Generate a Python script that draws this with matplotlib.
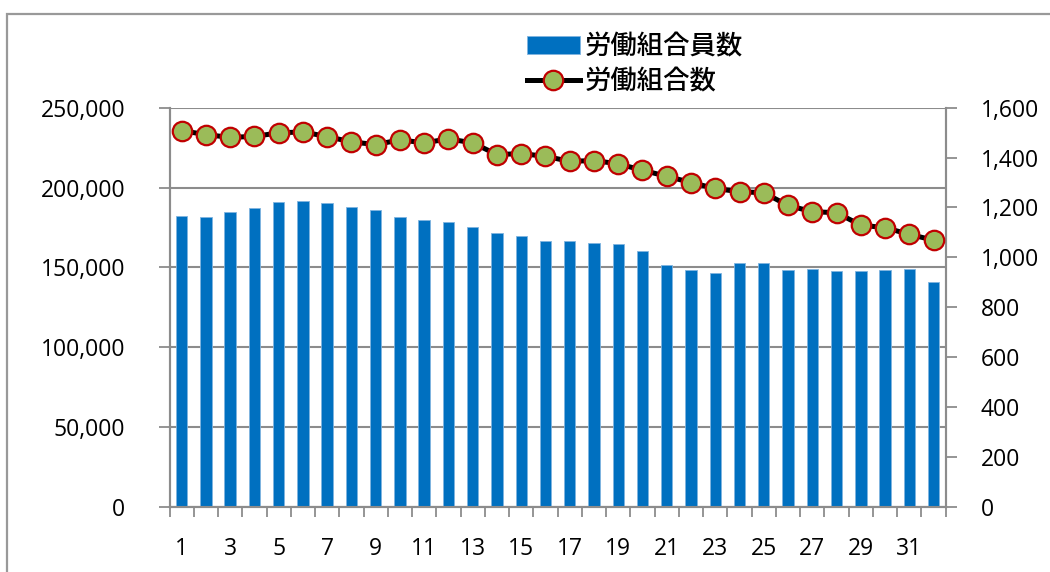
import matplotlib
matplotlib.use("Agg")
import matplotlib.pyplot as plt
from matplotlib.patches import Rectangle
from matplotlib.ticker import FixedLocator, FuncFormatter
import numpy as np

categories = list(range(1, 33))
members = [182000, 181500, 184400, 187300, 191000, 191400, 190600, 187700,
           185600, 181500, 179800, 178500, 175200, 171700, 169600, 166500,
           166400, 165400, 164800, 160000, 151400, 148500, 146400, 152500,
           152500, 148500, 149100, 147700, 147900, 148500, 148700, 140800]
unions = [1508, 1492, 1481, 1485, 1499, 1503, 1484, 1463, 1452, 1471, 1459,
          1475, 1459, 1412, 1416, 1405, 1385, 1388, 1375, 1349, 1325, 1300,
          1276, 1263, 1259, 1208, 1183, 1179, 1129, 1119, 1092, 1069]
xtick_labels = [str(v) for v in range(1, 32, 2)]
left_ticks = [0, 50000, 100000, 150000, 200000, 250000]
right_ticks = [0, 200, 400, 600, 800, 1000, 1200, 1400, 1600]
label_bars = "労働組合員数"
label_line = "労働組合数"

W, H = 1050, 572
fig = plt.figure(figsize=(W / 100, H / 100), dpi=100)

grey = "#8c8c8c"
tick_font = dict(family=["Open Sans", "DejaVu Sans"], size=16.5)

# outer chart border
fig.patches.append(Rectangle((7 / W, -0.05), 1.2, 1 - 13.5 / H + 0.05,
                             transform=fig.transFigure, fill=False,
                             edgecolor="#999999", lw=1.6))

l, r, b, t = 169.5 / W, 945.7 / W, 1 - 506.7 / H, 1 - 107.7 / H
ax = fig.add_axes([l, b, r - l, t - b])
ax2 = ax.twinx()

bars = ax.bar(categories, members, width=0.47, color="#0070C0",
              edgecolor="#7fb4e0", linewidth=0.6, zorder=3, label=label_bars)
ax.set_xlim(0.5, 32.5)
ax.set_ylim(0, 250000)
ax.set_yticks(left_ticks)
ax.yaxis.set_major_formatter(FuncFormatter(lambda v, p: f"{int(v):,}"))
ax.grid(axis="y", color=grey, lw=1.5, zorder=0)
ax.set_axisbelow(True)

ax.set_xticks([int(s) for s in xtick_labels])
ax.set_xticklabels(xtick_labels)
ax.xaxis.set_minor_locator(FixedLocator(np.arange(0.5, 33, 1.0)))
ax.tick_params(axis="x", which="major", length=0, pad=22)
ax.tick_params(axis="x", which="minor", length=7, width=1.3, color=grey, direction="out")
ax.tick_params(axis="y", length=8, width=1.3, color=grey, direction="out", pad=24)

(line,) = ax2.plot(categories, unions, color="black", lw=3.6, marker="o",
                   markersize=14, markerfacecolor="#9BBB59",
                   markeredgecolor="#C00000", markeredgewidth=1.6,
                   label=label_line, zorder=4)
ax2.set_ylim(0, 1600)
ax2.set_yticks(right_ticks)
ax2.yaxis.set_major_formatter(FuncFormatter(lambda v, p: f"{int(v):,}"))
ax2.tick_params(axis="y", length=8, width=1.3, color=grey, direction="out", pad=17)

for a in (ax, ax2):
    for s in ("top",):
        a.spines[s].set_visible(False)
    for s in ("left", "right", "bottom"):
        a.spines[s].set_color(grey)
        a.spines[s].set_linewidth(1.5)
    for lab in a.get_xticklabels() + a.get_yticklabels():
        lab.set_fontfamily(tick_font["family"])
        lab.set_fontsize(tick_font["size"])

leg = fig.legend(handles=[bars, line], labels=[label_bars, label_line],
                 loc="upper left", bbox_to_anchor=(527 / W, 1 - 33 / H),
                 frameon=False, borderpad=0, borderaxespad=0,
                 handlelength=2.0, handletextpad=0.2, labelspacing=0.32,
                 prop=dict(family=["Noto Sans CJK JP", "DejaVu Sans"], size=19,
                           weight="medium"))
leg.legend_handles[1].set_markersize(14)

fig.savefig("out.png", dpi=100)
